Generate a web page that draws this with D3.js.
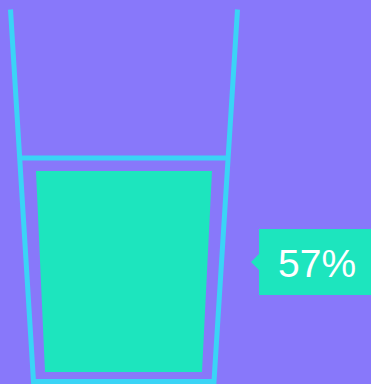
<!DOCTYPE html>
<html><head><meta charset="utf-8">
<script src="https://cdn.jsdelivr.net/npm/d3@7"></script>
<style>html,body{margin:0;padding:0;background:#8878fa;overflow:hidden}</style>
</head><body>
<svg id="c" width="371" height="384"></svg>
<script>
// data
const labels = ["57%"];
const values = [57];
const domainMax = [100];

const W = 371, H = 384;
const svg = d3.select("#c");
svg.append("rect").attr("width", W).attr("height", H).attr("fill", "#8878fa");

const glassTop = 9.5, glassBottom = 381.5;
const y = d3.scaleLinear().domain([0, domainMax[0]]).range([382, 12]);
// wall x as function of pixel y
const leftWall = d3.scaleLinear().domain([glassTop, glassBottom]).range([10.5, 33.5]);
const rightWall = d3.scaleLinear().domain([glassTop, glassBottom]).range([237.5, 214]);
const leftFill = d3.scaleLinear().domain([171, 372]).range([36, 45]);
const rightFill = d3.scaleLinear().domain([171, 372]).range([212, 202]);

const cyan = "#3ad4f6", teal = "#1de5be";

const v = values[0];
const fillTop = y(v);
const fillBottom = 372;

// fill
svg.append("path")
  .attr("d", d3.line()([
    [leftFill(fillTop), fillTop], [rightFill(fillTop), fillTop],
    [rightFill(fillBottom), fillBottom], [leftFill(fillBottom), fillBottom]
  ]) + "Z")
  .attr("fill", teal);

// water line
const wl = fillTop - 13;
svg.append("line")
  .attr("x1", leftWall(wl)).attr("x2", rightWall(wl))
  .attr("y1", wl).attr("y2", wl)
  .attr("stroke", cyan).attr("stroke-width", 5);

// glass
svg.append("path")
  .attr("d", d3.line()([
    [leftWall(glassTop), glassTop], [leftWall(glassBottom), glassBottom],
    [rightWall(glassBottom), glassBottom], [rightWall(glassTop), glassTop]
  ]))
  .attr("fill", "none").attr("stroke", cyan).attr("stroke-width", 5)
  .attr("stroke-linejoin", "miter");

// label
const lx = 259, ly = 262, lh = 66;
const g = svg.append("g");
g.append("rect").attr("x", lx).attr("y", ly - lh / 2).attr("width", 120).attr("height", lh).attr("fill", teal);
g.append("path").attr("d", d3.line()([[lx, ly - 8], [lx - 8, ly], [lx, ly + 8]]) + "Z").attr("fill", teal);
g.append("text").attr("x", lx + 19).attr("y", 277)
  .attr("font-family", "'Liberation Sans', Arial, sans-serif").attr("font-size", 39)
  .attr("fill", "#ffffff").text(labels[0]);
</script>
</body></html>
